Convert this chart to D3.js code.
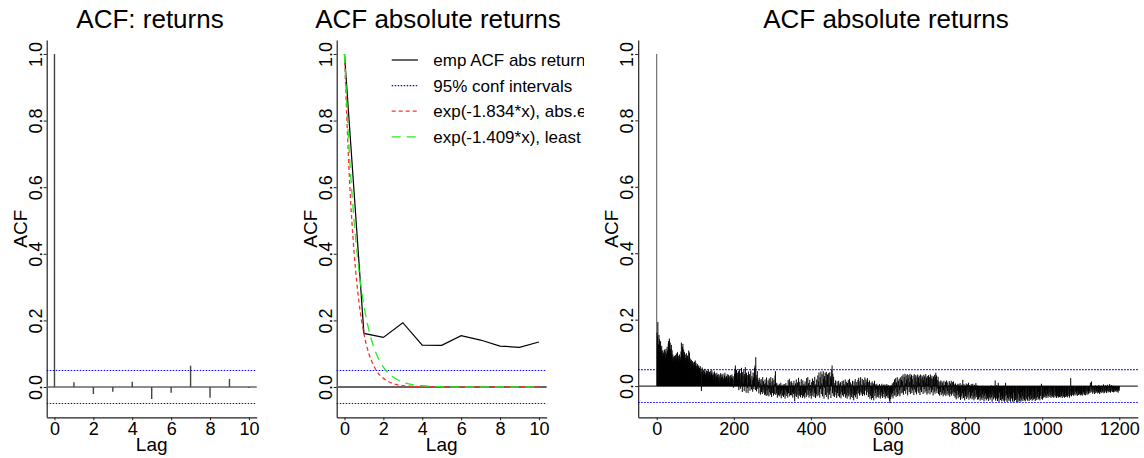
<!DOCTYPE html>
<html>
<head>
<meta charset="utf-8">
<script src="https://cdn.jsdelivr.net/npm/d3@7"></script>
<style>
  html, body { margin: 0; padding: 0; background: #fff; }
  svg { display: block; font-family: "Liberation Sans", Arial, sans-serif; }
</style>
</head>
<body>
<svg id="chart" width="1144" height="458"></svg>
<script>
// ---------------- data ----------------
const confBound = 0.0495;

// panel 1 : ACF of returns, lags 0..10
const retLags = [0, 1, 2, 3, 4, 5, 6, 7, 8, 9, 10];
const retAcf = [1, 0.014, -0.021, -0.014, 0.016, -0.036, -0.017, 0.064, -0.032, 0.024, -0.003];

// panel 2 : ACF of absolute returns, lags 0..10 + fitted decays
const absLags = [0, 1, 2, 3, 4, 5, 6, 7, 8, 9, 10];
const absAcf = [1, 0.161, 0.149, 0.193, 0.126, 0.125, 0.154, 0.141, 0.123, 0.119, 0.135];
const fitLags = [0, 0.25, 0.5, 0.75, 1, 1.25, 1.5, 1.75, 2, 2.5, 3, 3.5, 4, 5, 6, 7, 8, 9, 10];
const fitAbsErr = [1, 0.632, 0.4, 0.253, 0.16, 0.101, 0.064, 0.04, 0.026, 0.01, 0.004, 0.002, 0.001, 0, 0, 0, 0, 0, 0];
const fitLeastSq = [1, 0.703, 0.494, 0.348, 0.244, 0.172, 0.121, 0.085, 0.06, 0.03, 0.015, 0.007, 0.004, 0.001, 0, 0, 0, 0, 0];
const legendLabels = [
  "emp ACF abs returns",
  "95% conf intervals",
  "exp(-1.834*x), abs.error",
  "exp(-1.409*x), least squares"
];

// panel 3 : ACF of absolute returns, lags 1..1200 (values x 1000)
const longAcfMilli = [
  161,149,193,126,125,154,141,123,119,135, 112,98,121,105,90,108,95,101,88,110,
  96,104,85,112,99,92,118,107,95,128, 136,120,143,101,131,112,97,124,90,108,
  82,95,76,88,70,91,85,79,93,74, 98,83,77,102,86,72,91,80,95,68,
  88,79,104,131,96,85,118,127,92,110, 89,102,78,95,84,71,99,86,75,92,
  80,73,107,88,101,69,83,76,64,79, 68,59,75,62,71,54,66,73,58,77,
  64,70,52,61,57,66,49,58,62,45, 55,47,60,38,52,-15,44,56,41,50,
  36,48,29,44,52,33,40,25,47,38, 31,45,22,50,37,28,43,19,35,46,
  27,39,49,24,33,41,18,36,30,44, 22,38,15,31,27,40,12,34,25,19,
  36,28,10,33,21,39,16,26,35,13, 29,37,18,24,8,32,40,20,27,14,
  30,23,36,11,25,34,17,28,9,31, 21,33,14,26,35,7,24,30,-5,18,
  28,38,52,62,44,25,49,31,16,40, 22,45,-12,35,51,18,-8,39,27,55,
  14,-18,42,31,9,48,-15,36,20,57, 25,-20,40,12,33,-6,-21,44,28,10,
  36,-14,22,47,5,-10,30,18,-17,41, 26,-9,38,55,62,-12,87,33,-16,24,
  45,-8,19,12,-22,25,-5,18,-26,8, 21,-18,3,-24,27,-11,15,-20,6,-27,
  20,-25,9,-30,26,-14,4,-28,17,-8, -31,23,-19,11,-26,27,-3,-33,14,-21,
  24,-12,-29,19,6,-24,32,45,-27,10, -22,8,-35,-12,3,-28,-18,7,-31,-6,
  -25,10,-37,-15,2,-29,-9,5,-33,-20, 6,-26,-38,-11,9,-30,-17,1,-24,-35,
  18,-22,-8,22,-31,12,-27,-4,15,-28, 10,-19,-35,4,-24,16,-12,-46,-30,8,
  -21,20,-33,-6,11,-26,-38,25,-15,-29, 13,-23,-34,-2,21,-27,-9,-36,17,-18,
  -31,7,-25,-37,14,-20,-4,-33,24,-28, -11,27,-26,9,-35,-14,19,-30,3,-22,
  -38,12,-17,23,-29,-8,16,-33,-21,28, -12,-36,6,-25,20,-31,-3,32,-28,15,
  41,-19,-35,27,-9,44,-24,8,36,-31, -14,45,22,-38,30,-6,40,-27,18,43,
  -33,11,35,-20,-40,39,4,-26,42,-15, 29,-36,21,48,62,-22,37,-30,28,-12,
  -33,9,-18,17,-27,-5,-36,14,-21,3, -30,16,-12,-34,8,-25,12,-37,-2,-19,
  15,-28,-9,17,-32,6,-24,-15,20,-35, -4,13,-29,-38,9,-20,18,-31,-7,22,
  -26,-40,11,-16,-33,5,-23,16,-36,-10, -43,14,-28,-18,21,-34,-2,-25,12,-39,
  -13,19,-22,25,-8,-29,15,-17,27,-26, 4,-20,22,-30,-11,18,-24,9,-28,26,
  -14,-3,20,-27,13,-19,24,-9,-33,12, -24,17,-38,-6,-29,10,-41,-15,14,-36,
  -22,8,-43,-12,16,-30,5,-21,-37,-9, 7,-33,-18,-28,2,-35,-12,6,-26,-38,
  -4,-31,-19,7,-29,-36,-10,4,-24,-33, -16,5,-38,-22,-7,-30,6,-35,-13,-27,
  3,-37,-20,-44,-51,-18,-39,2,-25,-32, 8,-21,-37,12,-14,-29,20,-27,-8,24,
  -33,11,-19,27,-30,-2,16,-25,22,-12, -31,26,-6,-22,19,30,-20,14,35,-26,
  -5,27,-15,37,8,-23,32,19,-11,36, -28,24,-3,33,-18,12,37,-24,28,-7,
  34,-21,21,-13,31,5,-27,36,-10,25, -19,33,14,-25,29,-4,35,-16,26,-21,
  31,9,-27,35,-12,22,-18,32,-3,28, -24,17,34,-9,29,-20,11,36,-15,25,
  -26,30,6,-22,33,19,-12,27,-25,35, -5,24,-19,31,-11,22,-28,29,8,-17,
  34,-23,26,40,-14,32,-21,18,-8,28, -24,15,-9,-29,12,-18,17,-27,-4,14,
  -22,10,-31,-13,16,-26,3,-20,13,-30, -7,17,-25,-15,11,-28,2,-21,15,-32,
  -11,8,-24,16,-29,-6,12,-23,-17,14, -30,5,-19,-35,8,-22,-40,3,-28,-14,
  7,-37,-25,5,-33,-19,9,-42,-11,-30, 4,-38,-21,19,-27,-36,6,-16,-43,2,
  -31,-24,8,-39,-13,5,-34,-26,10,-41, -18,3,-32,-37,-9,6,-29,-40,-20,7,
  -35,-15,-43,4,-30,-38,-12,9,-33,-25, 2,-41,-19,-28,-40,-6,-33,-19,-44,-2,
  -31,-37,-12,-42,-25,1,-35,-16,-46,-29, -8,-39,-22,-3,-43,-30,-14,-38,0,-27,
  -45,-18,-34,-7,-41,-24,-36,2,-32,-47, -15,-28,-4,-40,-21,-35,-9,17,-44,-26,
  -38,3,-30,-45,-13,10,-37,-48,-20,-1, -33,-42,-16,-29,-46,-6,-39,-24,-44,1,
  -35,-47,-11,-31,10,-43,-26,-4,-48,-36, -18,-2,-40,-45,-23,-33,0,-47,-14,-38,
  -29,-5,-44,-49,-20,-3,-37,-46,-27,-8, -42,-33,-1,-48,-39,-15,-50,-24,-4,-44,
  -31,-46,-2,-36,-47,-18,-41,0,-30,-45, -12,-38,-3,-43,-26,-46,-9,-35,-1,-40,
  -21,-44,-14,-32,-2,-45,-37,-11,-42,-27, 0,-39,-19,-44,-6,-34,-41,-16,-3,-38,
  -29,-45,-10,-36,-1,-42,-24,-33,-7,-40, -18,-2,-37,-43,-13,-30,-4,7,-39,-26,
  -41,-9,-35,-1,-31,-20,-34,-2,-28,-36, -12,-31,0,-25,-35,-8,-30,-19,-1,-33,
  -27,-5,-36,-15,-29,-3,-32,-22,-35,-6, -26,-1,-34,-17,-30,-9,-36,-24,-2,-31,
  -13,-35,-28,0,-33,-18,-7,-34,-26,-30, -1,-36,-20,-11,-32,-4,-29,-35,-14,-2,
  -33,-23,-31,-6,-27,-34,-10,-1,-30,-24, -35,-3,-28,24,-16,-31,-5,-27,-20,-1,
  -29,-12,-24,-2,-28,-17,0,-26,-22,-8, -30,-15,-3,-27,-19,-1,-25,-11,-28,-21,
  -4,-26,-14,-29,-2,-23,-18,-6,-27,-24, 0,-28,-10,-20,-3,-26,-16,-1,-25,-22,
  -8,-22,-15,-2,10,-20,-11,14,-18,-5, -23,-12,-1,-19,-7,-24,-14,2,-21,-9,
  -17,0,-22,-6,-15,-20,3,-12,-24,-4, -18,-10,-21,1,-14,-19,-3,-16,5,-22,
  -8,-20,-13,2,-17,-6,-21,-11,4,-15, -19,-2,-14,-18,6,-12,-20,-7,-16,3,
  -13,-18,-5,-15,-19,1,-10,-17,-8,-14, -16,-4,-12,-18,-9,-15,-20,-11,-6,-14
];
const longAcf = [1].concat(longAcfMilli.map((v) => v / 1000));

const yTicks = [0, 0.2, 0.4, 0.6, 0.8, 1.0];
const shortLagTicks = [0, 2, 4, 6, 8, 10];
const longLagTicks = [0, 200, 400, 600, 800, 1000, 1200];

// ---------------- layout ----------------
const svg = d3.select("#chart");
const TOP = 40, BOTTOM = 417.3;

const panels = [
  { id: "p1", title: "ACF: returns", x0: 46.7, x1: 256.7, titleX: 150,
    xDomain: [-0.4, 10.4], yDomain: [-0.091, 1.042], xTicks: shortLagTicks },
  { id: "p2", title: "ACF absolute returns", x0: 336.7, x1: 546.7, titleX: 438,
    xDomain: [-0.4, 10.4], yDomain: [-0.091, 1.042], xTicks: shortLagTicks },
  { id: "p3", title: "ACF absolute returns", x0: 638.2, x1: 1137.8, titleX: 886,
    xDomain: [-48, 1248], yDomain: [-0.094, 1.042], xTicks: longLagTicks }
];

const fmtY = d3.format(".1f");
const fmtX = d3.format("d");

const drawFrame = (p) => {
  // axes, titles and reference lines of one panel
  p.x = d3.scaleLinear().domain(p.xDomain).range([p.x0, p.x1]);
  p.y = d3.scaleLinear().domain(p.yDomain).range([BOTTOM, TOP]);
  const g = svg.append("g").attr("id", p.id);
  p.g = g;

  const ax = g.append("g")
    .attr("transform", `translate(${p.x0},0)`)
    .call(d3.axisLeft(p.y).tickValues(yTicks).tickFormat(fmtY).tickSize(3).tickSizeOuter(0));
  ax.selectAll("text")
    .attr("transform", "rotate(-90)")
    .attr("x", 0).attr("y", -5).attr("dy", 0)
    .attr("text-anchor", "middle");

  const bx = g.append("g")
    .attr("transform", `translate(0,${BOTTOM})`)
    .call(d3.axisBottom(p.x).tickValues(p.xTicks).tickFormat(fmtX).tickSize(3).tickSizeOuter(0));
  bx.selectAll("text").attr("y", 18).attr("dy", 0);

  g.selectAll(".domain").attr("stroke", "#222").attr("stroke-width", 1.2);
  g.selectAll(".tick line").attr("stroke", "#222");
  g.selectAll(".tick text").attr("fill", "#000")
    .style("font-size", "18px").style("font-family", "'Liberation Sans', Arial, sans-serif");

  g.append("text").attr("x", p.titleX).attr("y", 28)
    .attr("text-anchor", "middle").style("font-size", "26px").text(p.title);
  g.append("text").attr("x", (p.x0 + p.x1) / 2).attr("y", 451)
    .attr("text-anchor", "middle").style("font-size", "19px").text("Lag");
  g.append("text")
    .attr("transform", `translate(${p.x0 - 20},${(TOP + BOTTOM) / 2}) rotate(-90)`)
    .attr("text-anchor", "middle").style("font-size", "19px").text("ACF");

  return g;
};

const drawZeroAndConf = (p, zeroColor, zeroWidth) => {
  p.g.append("line")
    .attr("x1", p.x0).attr("x2", p.x1)
    .attr("y1", p.y(0)).attr("y2", p.y(0))
    .attr("stroke", zeroColor).attr("stroke-width", zeroWidth);
  [confBound, -confBound].forEach((c) => {
    p.g.append("line")
      .attr("x1", p.x0).attr("x2", p.x1)
      .attr("y1", p.y(c)).attr("y2", p.y(c))
      .attr("stroke", "#0000ff").attr("stroke-width", 1.1)
      .attr("stroke-dasharray", "1.5,1.5");
  });
};

panels.forEach(drawFrame);

// ---------------- panel 1 ----------------
const p1 = panels[0];
drawZeroAndConf(p1, "#666", 1.6);
p1.g.append("g").selectAll("line")
  .data(retLags)
  .enter()
  .append("line")
  .attr("x1", (d) => p1.x(d)).attr("x2", (d) => p1.x(d))
  .attr("y1", p1.y(0))
  .attr("y2", (d, i) => p1.y(retAcf[i]))
  .attr("stroke", "#444").attr("stroke-width", 1.4);

// ---------------- panel 2 ----------------
const p2 = panels[1];
drawZeroAndConf(p2, "#666", 1.8);

const lineP2 = (xs) => d3.line().x((d, i) => p2.x(xs[i])).y((d) => p2.y(d));
p2.g.append("path").datum(absAcf)
  .attr("d", lineP2(absLags))
  .attr("fill", "none").attr("stroke", "#000").attr("stroke-width", 1.2);
p2.g.append("path").datum(fitAbsErr)
  .attr("d", lineP2(fitLags).curve(d3.curveMonotoneX))
  .attr("fill", "none").attr("stroke", "#ff3030").attr("stroke-width", 1.3)
  .attr("stroke-dasharray", "4,3");
p2.g.append("path").datum(fitLeastSq)
  .attr("d", lineP2(fitLags).curve(d3.curveMonotoneX))
  .attr("fill", "none").attr("stroke", "#22ee22").attr("stroke-width", 1.3)
  .attr("stroke-dasharray", "9,6");

// legend (clipped at the figure edge, as in the original)
svg.append("defs").append("clipPath").attr("id", "legclip")
  .append("rect").attr("x", 380).attr("y", 40).attr("width", 204).attr("height", 120);

const legStyles = [
  { color: "#000", dash: null },
  { color: "#0000ff", dash: "1.5,1.5" },
  { color: "#ff3030", dash: "4,3" },
  { color: "#22ee22", dash: "9,6" }
];
const leg = svg.append("g").attr("clip-path", "url(#legclip)");
const legRow = leg.selectAll("g")
  .data(legendLabels)
  .enter()
  .append("g")
  .attr("transform", (d, i) => `translate(0,${60 + i * 25.6})`);
legRow.append("line")
  .attr("x1", 391.7).attr("x2", 418).attr("y1", 0).attr("y2", 0)
  .attr("stroke", (d, i) => legStyles[i].color)
  .attr("stroke-width", 1.2)
  .attr("stroke-dasharray", (d, i) => legStyles[i].dash);
legRow.append("text")
  .attr("x", 433.3).attr("y", 6)
  .style("font-size", "17px")
  .text((d) => d);

// ---------------- panel 3 ----------------
const p3 = panels[2];
drawZeroAndConf(p3, "#333", 1.2);
p3.g.append("g").selectAll("line")
  .data(longAcf)
  .enter()
  .append("line")
  .attr("x1", (d, i) => p3.x(i)).attr("x2", (d, i) => p3.x(i))
  .attr("y1", p3.y(0))
  .attr("y2", (d) => p3.y(d))
  .attr("stroke", (d, i) => (i === 0 ? "#555" : "#000"))
  .attr("stroke-width", 1);
</script>
</body>
</html>
